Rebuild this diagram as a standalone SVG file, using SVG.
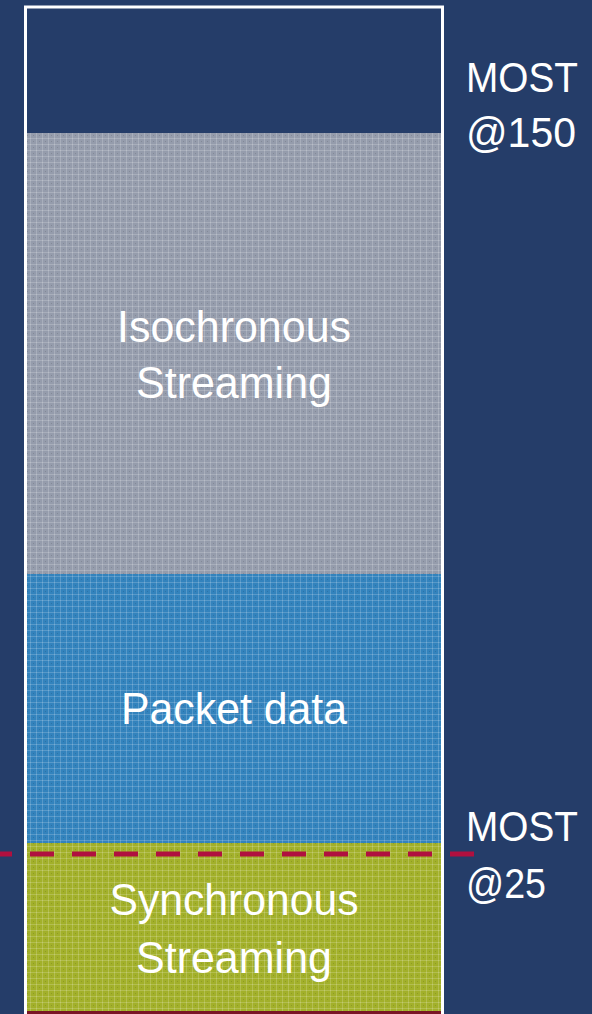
<svg xmlns="http://www.w3.org/2000/svg" width="592" height="1014" viewBox="0 0 592 1014">
<style>
.t{font-family:"Liberation Sans","Arial",sans-serif;fill:#ffffff;}
.c{text-anchor:middle;font-size:45px;}
.r{font-size:43px;}
</style>
<defs>
<pattern id="grid" width="6" height="6" patternUnits="userSpaceOnUse">
<rect x="0" y="0" width="6" height="1" fill="#ffffff" fill-opacity="0.18"/>
<rect x="0" y="0" width="1" height="6" fill="#ffffff" fill-opacity="0.18"/>
<rect x="3" y="3" width="1" height="1" fill="#000000" fill-opacity="0.12"/>
</pattern>
</defs>
<rect x="0" y="0" width="592" height="1014" fill="#253d69"/>
<g id="isochronous">
<rect x="27" y="133" width="414" height="441" fill="#959cac"/>
<rect x="27" y="133" width="414" height="441" fill="url(#grid)"/>
<text class="t c" x="234" y="342" textLength="234" lengthAdjust="spacingAndGlyphs">Isochronous</text>
<text class="t c" x="234" y="398" textLength="196" lengthAdjust="spacingAndGlyphs">Streaming</text>
</g>
<g id="packet">
<rect x="27" y="574" width="414" height="269" fill="#3383bd"/>
<rect x="27" y="574" width="414" height="269" fill="url(#grid)"/>
<text class="t c" x="234" y="724" textLength="226" lengthAdjust="spacingAndGlyphs">Packet data</text>
</g>
<g id="synchronous">
<rect x="27" y="843" width="414" height="169" fill="#a2b02a"/>
<rect x="27" y="843" width="414" height="169" fill="url(#grid)"/>
<rect x="27" y="1011" width="414" height="3" fill="#7a1424"/>
<text class="t c" x="234" y="915" textLength="249" lengthAdjust="spacingAndGlyphs">Synchronous</text>
<text class="t c" x="234" y="973" textLength="196" lengthAdjust="spacingAndGlyphs">Streaming</text>
</g>
<g id="frame">
<rect x="25.5" y="7" width="417" height="1012" fill="none" stroke="#ffffff" stroke-width="3"/>
</g>
<g id="connectors">
<line x1="0" y1="854" x2="474" y2="854" stroke="#b0103f" stroke-width="5" stroke-dasharray="24 18" stroke-dashoffset="12"/>
</g>
<g id="label150">
<text class="t r" x="466" y="92" textLength="112" lengthAdjust="spacingAndGlyphs">MOST</text>
<text class="t r" x="466" y="147" textLength="110" lengthAdjust="spacingAndGlyphs">@150</text>
</g>
<g id="label25">
<text class="t r" x="466" y="841" textLength="112" lengthAdjust="spacingAndGlyphs">MOST</text>
<text class="t r" x="466" y="898" textLength="80" lengthAdjust="spacingAndGlyphs">@25</text>
</g>
</svg>
